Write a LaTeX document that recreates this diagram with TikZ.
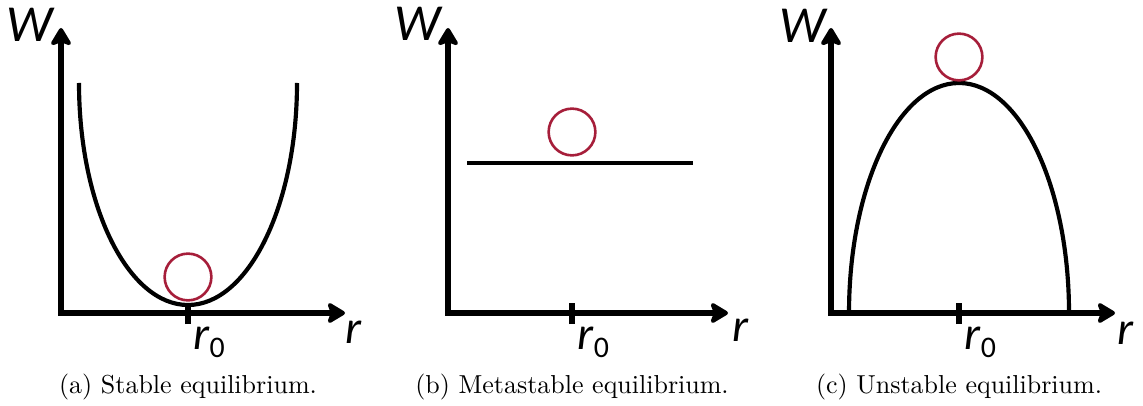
\documentclass[tikz,border=0pt]{standalone}
\usepackage{fontspec}
\newfontfamily\labelfont{Carlito}
\usetikzlibrary{arrows.meta}
\definecolor{ballred}{RGB}{166,30,58}
\newcommand{\rsub}{r\raisebox{-3pt}{\upshape\fontsize{11.5}{12}\selectfont 0}}

\begin{document}
\begin{tikzpicture}[
  x=0.385pt, y=0.385pt,
  >={Stealth[length=8pt,width=9.5pt,inset=1.8pt,round]},
  axis/.style={line width=2.1pt, <->},
  tickmark/.style={line width=2.1pt},
  curve/.style={line width=1.6pt},
  ball/.style={circle, draw=ballred, line width=1pt, minimum size=18pt, inner sep=0pt},
  varlabel/.style={font=\labelfont\itshape\fontsize{18}{20}\selectfont, inner sep=0pt},
  biglabel/.style={varlabel, font=\labelfont\itshape\fontsize{20}{22}\selectfont},
  caption/.style={anchor=base}
]
\useasboundingbox (0,0) rectangle (1143,405);

% (a) stable
\begin{scope}[shift={(61,92)}]
  \coordinate (Oa) at (0,0);
  \coordinate (xa) at (284,0);
  \coordinate (ya) at (0,285);
  \coordinate (ta1) at (127,-11);
  \coordinate (ta2) at (127,10);
  \coordinate (ea) at (18,230);
  \draw[axis] (ya) -- (Oa) -- (xa);
  \draw[tickmark] (ta1) -- (ta2);
  \draw[curve] (ea) arc[start angle=180, end angle=360, x radius=109, y radius=222];
  \node[ball] (balla) at (127,36) {};
  \node[biglabel] (Wa) at (-31,288) {W};
  \node[varlabel] (ra) at (293,-19) {r};
  \node[varlabel, anchor=north west] (r0a) at (ta1) [xshift=2pt,yshift=-1pt] {\rsub};
  \node[caption] (capa) at (127,-80) {(a) Stable equilibrium.};
\end{scope}

% (b) metastable
\begin{scope}[shift={(448,92)}]
  \coordinate (Ob) at (0,0);
  \coordinate (xb) at (280,0);
  \coordinate (yb) at (0,285);
  \coordinate (tb1) at (124,-11);
  \coordinate (tb2) at (124,10);
  \coordinate (lb1) at (19,150);
  \coordinate (lb2) at (245,150);
  \draw[axis] (yb) -- (Ob) -- (xb);
  \draw[tickmark] (tb1) -- (tb2);
  \draw[line width=1.3pt] (lb1) -- (lb2);
  \node[ball] (ballb) at (124,181) {};
  \node[biglabel] (Wb) at (-30,289) {W};
  \node[varlabel] (rb) at (292,-17) {r};
  \node[varlabel, anchor=north west] (r0b) at (tb1) [xshift=2pt,yshift=-1pt] {\rsub};
  \node[caption] (capb) at (124,-80) {(b) Metastable equilibrium.};
\end{scope}

% (c) unstable
\begin{scope}[shift={(831,92)}]
  \coordinate (Oc) at (0,0);
  \coordinate (xc) at (284,0);
  \coordinate (yc) at (0,285);
  \coordinate (tc1) at (128,-11);
  \coordinate (tc2) at (128,10);
  \coordinate (ec) at (18,0);
  \draw[axis] (yc) -- (Oc) -- (xc);
  \draw[tickmark] (tc1) -- (tc2);
  \draw[curve] (ec) arc[start angle=180, end angle=0, x radius=110, y radius=230];
  \node[ball] (ballc) at (128,256) {};
  \node[biglabel] (Wc) at (-28,287) {W};
  \node[varlabel] (rc) at (294,-20) {r};
  \node[varlabel, anchor=north west] (r0c) at (tc1) [xshift=2pt,yshift=-1pt] {\rsub};
  \node[caption] (capc) at (128,-80) {(c) Unstable equilibrium.};
\end{scope}
\end{tikzpicture}
\end{document}
